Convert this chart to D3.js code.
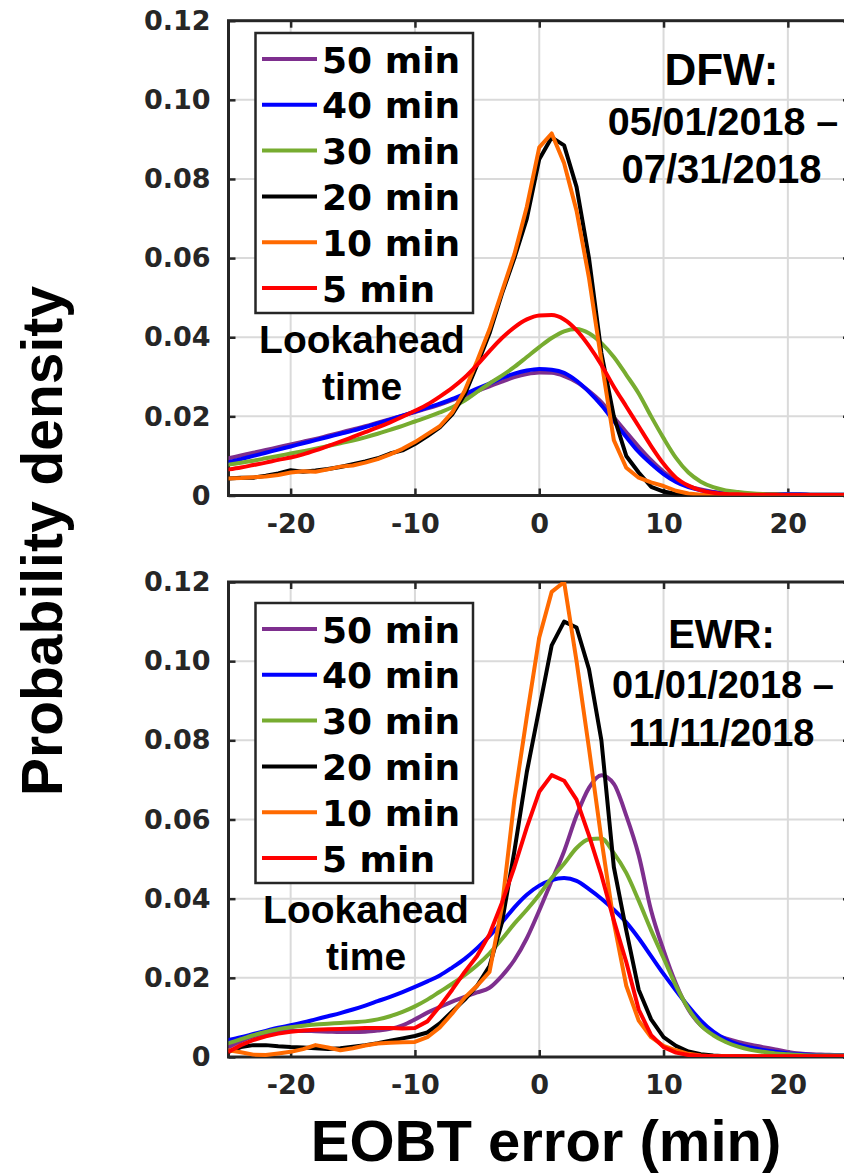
<!DOCTYPE html>
<html>
<head>
<meta charset="utf-8">
<script src="https://cdn.jsdelivr.net/npm/d3@7"></script>
<style>
  html, body { margin: 0; padding: 0; background: #fff; }
  svg { display: block; }
</style>
</head>
<body>
<svg id="chart" width="844" height="1175"></svg>
<script>
// EOBT error (minutes), sampled every minute
const minutes = [-25,-24,-23,-22,-21,-20,-19,-18,-17,-16,-15,-14,-13,-12,-11,-10,-9,-8,-7,-6,-5,-4,-3,-2,-1,
  0,1,2,3,4,5,6,7,8,9,10,11,12,13,14,15,16,17,18,19,20,21,22,23,24,25];

// Lookahead times (legend order) and colours
const lookaheads = ["50 min", "40 min", "30 min", "20 min", "10 min", "5 min"];
const lineColors = ["#7E2F8E", "#0000FF", "#77AC30", "#000000", "#FF6A00", "#FF0000"];

// DFW, 05/01/2018 – 07/31/2018
const dfw50 = [0.0094,0.0101,0.0108,0.0115,0.0122,0.0129,0.0136,0.0143,0.0151,0.0159,0.0167,0.0175,0.0184,0.0193,0.0202,0.0211,0.0220,0.0230,0.0241,0.0252,0.0264,0.0276,0.0288,0.0299,0.0307,
  0.0311,0.0310,0.0302,0.0287,0.0264,0.0236,0.0198,0.0160,0.0123,0.0089,0.0060,0.0038,0.0024,0.0015,0.0009,0.0006,0.0004,0.0004,0.0003,0.0003,0.0003,0.0003,0.0002,0.0002,0.0002,0.0002];
const dfw40 = [0.0084,0.0092,0.0100,0.0108,0.0116,0.0124,0.0132,0.0140,0.0148,0.0156,0.0164,0.0173,0.0182,0.0192,0.0202,0.0212,0.0222,0.0232,0.0244,0.0256,0.0270,0.0283,0.0297,0.0308,0.0316,
  0.0320,0.0318,0.0310,0.0290,0.0262,0.0228,0.0188,0.0148,0.0110,0.0080,0.0054,0.0034,0.0021,0.0013,0.0008,0.0005,0.0004,0.0004,0.0003,0.0003,0.0003,0.0003,0.0002,0.0002,0.0002,0.0002];
const dfw30 = [0.0078,0.0083,0.0088,0.0094,0.0100,0.0106,0.0112,0.0118,0.0125,0.0132,0.0139,0.0147,0.0156,0.0166,0.0176,0.0187,0.0198,0.0210,0.0223,0.0240,0.0262,0.0283,0.0303,0.0325,0.0350,
  0.0375,0.0398,0.0415,0.0421,0.0410,0.0385,0.0350,0.0305,0.0258,0.0200,0.0145,0.0095,0.0058,0.0035,0.0021,0.0013,0.0009,0.0006,0.0004,0.0003,0.0002,0.0002,0.0002,0.0002,0.0002,0.0002];
const dfw20 = [0.0043,0.0045,0.0045,0.0050,0.0056,0.0064,0.0060,0.0063,0.0067,0.0072,0.0079,0.0086,0.0094,0.0106,0.0114,0.0130,0.0150,0.0172,0.0205,0.0255,0.0330,0.0410,0.0510,0.0600,0.0700,
  0.0850,0.0905,0.0885,0.0780,0.0600,0.0360,0.0200,0.0100,0.0058,0.0022,0.0010,0.0004,0.0002,0.0001,0.0001,0.0001,0.0001,0.0001,0.0001,0.0001,0.0001,0.0001,0.0001,0.0001,0.0001,0.0001];
const dfw10 = [0.0043,0.0044,0.0046,0.0048,0.0052,0.0058,0.0061,0.0060,0.0066,0.0073,0.0076,0.0083,0.0092,0.0104,0.0118,0.0135,0.0155,0.0175,0.0210,0.0265,0.0340,0.0420,0.0515,0.0610,0.0730,
  0.0880,0.0915,0.0840,0.0720,0.0550,0.0340,0.0140,0.0070,0.0045,0.0033,0.0024,0.0012,0.0005,0.0002,0.0001,0.0001,0.0001,0.0001,0.0001,0.0001,0.0001,0.0001,0.0001,0.0001,0.0001,0.0001];
const dfw5 = [0.0066,0.0071,0.0077,0.0083,0.0090,0.0096,0.0104,0.0114,0.0125,0.0136,0.0148,0.0160,0.0172,0.0185,0.0199,0.0214,0.0230,0.0250,0.0272,0.0298,0.0330,0.0365,0.0398,0.0425,0.0445,
  0.0455,0.0456,0.0445,0.0418,0.0378,0.0330,0.0275,0.0225,0.0175,0.0125,0.0080,0.0045,0.0025,0.0013,0.0007,0.0004,0.0003,0.0002,0.0002,0.0002,0.0001,0.0001,0.0001,0.0001,0.0001,0.0001];

// EWR, 01/01/2018 – 11/11/2018
const ewr50 = [0.0025,0.0040,0.0052,0.0060,0.0064,0.0066,0.0066,0.0065,0.0064,0.0063,0.0063,0.0064,0.0067,0.0071,0.0080,0.0095,0.0112,0.0126,0.0140,0.0152,0.0163,0.0175,0.0205,0.0245,0.0300,
  0.0370,0.0445,0.0520,0.0610,0.0680,0.0712,0.0690,0.0610,0.0510,0.0370,0.0270,0.0185,0.0120,0.0080,0.0058,0.0047,0.0038,0.0031,0.0025,0.0019,0.0013,0.0009,0.0007,0.0006,0.0005,0.0005];
const ewr40 = [0.0043,0.0050,0.0058,0.0066,0.0074,0.0080,0.0087,0.0095,0.0103,0.0111,0.0120,0.0130,0.0141,0.0152,0.0164,0.0177,0.0191,0.0206,0.0226,0.0248,0.0275,0.0306,0.0340,0.0378,0.0410,
  0.0433,0.0447,0.0452,0.0445,0.0424,0.0400,0.0372,0.0340,0.0300,0.0255,0.0210,0.0168,0.0128,0.0092,0.0064,0.0045,0.0032,0.0024,0.0018,0.0013,0.0009,0.0007,0.0005,0.0004,0.0004,0.0004];
const ewr30 = [0.0035,0.0045,0.0055,0.0063,0.0070,0.0075,0.0079,0.0082,0.0084,0.0086,0.0088,0.0090,0.0095,0.0103,0.0114,0.0128,0.0145,0.0165,0.0185,0.0207,0.0232,0.0262,0.0298,0.0337,0.0372,
  0.0410,0.0452,0.0488,0.0528,0.0550,0.0552,0.0515,0.0465,0.0395,0.0320,0.0250,0.0180,0.0122,0.0080,0.0055,0.0038,0.0026,0.0018,0.0013,0.0009,0.0007,0.0005,0.0004,0.0004,0.0004,0.0004];
const ewr20 = [0.0013,0.0025,0.0030,0.0030,0.0027,0.0025,0.0024,0.0022,0.0020,0.0022,0.0026,0.0030,0.0035,0.0041,0.0047,0.0053,0.0062,0.0085,0.0115,0.0145,0.0180,0.0230,0.0340,0.0520,0.0720,
  0.0880,0.1040,0.1100,0.1085,0.0980,0.0800,0.0480,0.0320,0.0170,0.0095,0.0050,0.0028,0.0014,0.0007,0.0004,0.0002,0.0002,0.0001,0.0001,0.0001,0.0001,0.0001,0.0001,0.0001,0.0001,0.0001];
const ewr10 = [0.0017,0.0012,0.0006,0.0005,0.0009,0.0013,0.0020,0.0030,0.0024,0.0017,0.0022,0.0029,0.0034,0.0036,0.0037,0.0038,0.0050,0.0075,0.0110,0.0150,0.0180,0.0215,0.0380,0.0650,0.0860,
  0.1060,0.1175,0.1200,0.1000,0.0780,0.0550,0.0340,0.0180,0.0092,0.0050,0.0028,0.0017,0.0008,0.0004,0.0002,0.0002,0.0001,0.0001,0.0001,0.0001,0.0001,0.0001,0.0001,0.0001,0.0001,0.0001];
const ewr5 = [0.0013,0.0030,0.0043,0.0052,0.0059,0.0064,0.0067,0.0069,0.0070,0.0071,0.0072,0.0073,0.0073,0.0073,0.0072,0.0073,0.0090,0.0128,0.0170,0.0215,0.0255,0.0310,0.0390,0.0480,0.0580,
  0.0670,0.0712,0.0698,0.0650,0.0560,0.0460,0.0345,0.0240,0.0120,0.0055,0.0025,0.0011,0.0005,0.0003,0.0002,0.0002,0.0002,0.0002,0.0002,0.0002,0.0002,0.0002,0.0002,0.0002,0.0002,0.0002];

// Axis ticks
const xTicks = [-20, -10, 0, 10, 20];
const xTickLabels = ["-20", "-10", "0", "10", "20"];
const yTicks = [0, 0.02, 0.04, 0.06, 0.08, 0.10, 0.12];
const yTickLabels = ["0", "0.02", "0.04", "0.06", "0.08", "0.10", "0.12"];

const panels = [
  { series: [dfw50, dfw40, dfw30, dfw20, dfw10, dfw5],
    smooth: [true, true, true, false, false, true],
    title: ["DFW:", "05/01/2018 \u2013", "07/31/2018"],
    top: 20.7, bottom: 495.5, legendTop: 33, legendBottom: 313, lookX: 362, lookY: 353,
    titleSizes: [44, 39.5, 40], titleY: [85, 135, 183] },
  { series: [ewr50, ewr40, ewr30, ewr20, ewr10, ewr5],
    smooth: [true, true, true, false, false, false],
    title: ["EWR:", "01/01/2018 \u2013", "11/11/2018"],
    top: 582, bottom: 1057, legendTop: 603, legendBottom: 883, lookX: 366, lookY: 923,
    titleSizes: [40, 38, 38], titleY: [648, 698, 746] }
];

const svg = d3.select("#chart");
const left = 228.5, right = 850;
const x = d3.scaleLinear().domain([-25, 25]).range([left, right]);
const axisColor = "#262626";
const gridColor = "#dadada";
const tickFont = "'DejaVu Sans', sans-serif";
const textFont = "'Liberation Sans', Arial, sans-serif";

svg.append("rect").attr("width", 844).attr("height", 1175).attr("fill", "#fff");

panels.forEach((p, pi) => {
  const y = d3.scaleLinear().domain([0, 0.12]).range([p.bottom, p.top]);
  const g = svg.append("g");

  const clipId = "clip" + pi;
  svg.append("defs").append("clipPath").attr("id", clipId)
    .append("rect").attr("x", left).attr("y", p.top).attr("width", right - left).attr("height", p.bottom - p.top);

  // grid
  const grid = g.append("g");
  grid.selectAll("line.gx").data(xTicks).join("line")
    .attr("x1", d => x(d)).attr("x2", d => x(d))
    .attr("y1", p.top).attr("y2", p.bottom)
    .attr("stroke", gridColor).attr("stroke-width", 2);
  grid.selectAll("line.gy").data(yTicks.slice(1, -1)).join("line")
    .attr("y1", d => y(d)).attr("y2", d => y(d))
    .attr("x1", left).attr("x2", right)
    .attr("stroke", gridColor).attr("stroke-width", 2);

  // bottom axis
  const xAxis = d3.axisBottom(x).tickValues(xTicks).tickSize(-7).tickPadding(18)
    .tickFormat((d, i) => xTickLabels[i]);
  const gx = g.append("g").attr("transform", `translate(0,${p.bottom})`).call(xAxis);
  gx.select(".domain").remove();
  gx.selectAll(".tick line").attr("stroke", axisColor).attr("stroke-width", 2.5);
  gx.selectAll(".tick text").attr("fill", axisColor).attr("font-family", tickFont)
    .attr("font-weight", "bold").attr("font-size", 27).attr("dy", "0.71em");

  // top ticks
  const xTop = d3.axisTop(x).tickValues(xTicks).tickSize(-7).tickFormat("");
  const gxt = g.append("g").attr("transform", `translate(0,${p.top})`).call(xTop);
  gxt.select(".domain").remove();
  gxt.selectAll(".tick line").attr("stroke", axisColor).attr("stroke-width", 2.5);

  // left axis
  const yAxis = d3.axisLeft(y).tickValues(yTicks).tickSize(-7).tickPadding(18)
    .tickFormat((d, i) => yTickLabels[i]);
  const gy = g.append("g").attr("transform", `translate(${left},0)`).call(yAxis);
  gy.select(".domain").remove();
  gy.selectAll(".tick line").attr("stroke", axisColor).attr("stroke-width", 2.5);
  gy.selectAll(".tick text").attr("fill", axisColor).attr("font-family", tickFont)
    .attr("font-weight", "bold").attr("font-size", 27);

  // right ticks
  const yRight = d3.axisRight(y).tickValues(yTicks).tickSize(-7).tickFormat("");
  const gyr = g.append("g").attr("transform", `translate(${right},0)`).call(yRight);
  gyr.select(".domain").remove();
  gyr.selectAll(".tick line").attr("stroke", axisColor).attr("stroke-width", 2.5);

  // box
  g.append("rect").attr("x", left).attr("y", p.top).attr("width", right - left).attr("height", p.bottom - p.top)
    .attr("fill", "none").attr("stroke", axisColor).attr("stroke-width", 3);

  // density curves
  const curves = g.append("g").attr("clip-path", `url(#${clipId})`);
  p.series.forEach((s, si) => {
    const line = d3.line()
      .x((d, i) => x(minutes[i])).y(d => y(d))
      .curve(p.smooth[si] ? d3.curveMonotoneX : d3.curveLinear);
    curves.append("path").datum(s).attr("d", line)
      .attr("fill", "none").attr("stroke", lineColors[si]).attr("stroke-width", 4)
      .attr("stroke-linejoin", "round").attr("stroke-linecap", "round");
  });

  // legend
  const lg = g.append("g");
  lg.append("rect").attr("x", 255.5).attr("y", p.legendTop).attr("width", 217.5)
    .attr("height", p.legendBottom - p.legendTop)
    .attr("fill", "#fff").attr("stroke", axisColor).attr("stroke-width", 2.5);
  const rowH = 45.8;
  lookaheads.forEach((name, i) => {
    const cy = p.legendTop + 26 + i * rowH;
    lg.append("line").attr("x1", 262).attr("x2", 317).attr("y1", cy).attr("y2", cy)
      .attr("stroke", lineColors[i]).attr("stroke-width", 4);
    lg.append("text").attr("x", 322).attr("y", cy + 13.5).text(name)
      .attr("font-family", tickFont).attr("font-weight", "bold").attr("font-size", 36).attr("fill", "#000");
  });

  // legend caption
  g.append("text").attr("x", p.lookX).attr("y", p.lookY).attr("text-anchor", "middle")
    .attr("font-family", textFont).attr("font-weight", "bold").attr("font-size", 39).text("Lookahead");
  g.append("text").attr("x", p.lookX).attr("y", p.lookY + 47).attr("text-anchor", "middle")
    .attr("font-family", textFont).attr("font-weight", "bold").attr("font-size", 39).text("time");

  // airport and date range
  p.title.forEach((t, i) => {
    g.append("text").attr("x", i === 1 ? 723 : 721.5).attr("y", p.titleY[i]).attr("text-anchor", "middle")
      .attr("font-family", textFont).attr("font-weight", "bold").attr("font-size", p.titleSizes[i]).text(t);
  });
});

// axis titles
svg.append("text").attr("transform", "translate(62,541) rotate(-90)").attr("text-anchor", "middle")
  .attr("font-family", textFont).attr("font-weight", "bold").attr("font-size", 57).text("Probability density");
svg.append("text").attr("x", 546).attr("y", 1161).attr("text-anchor", "middle")
  .attr("font-family", textFont).attr("font-weight", "bold").attr("font-size", 58).text("EOBT error (min)");
</script>
</body>
</html>
